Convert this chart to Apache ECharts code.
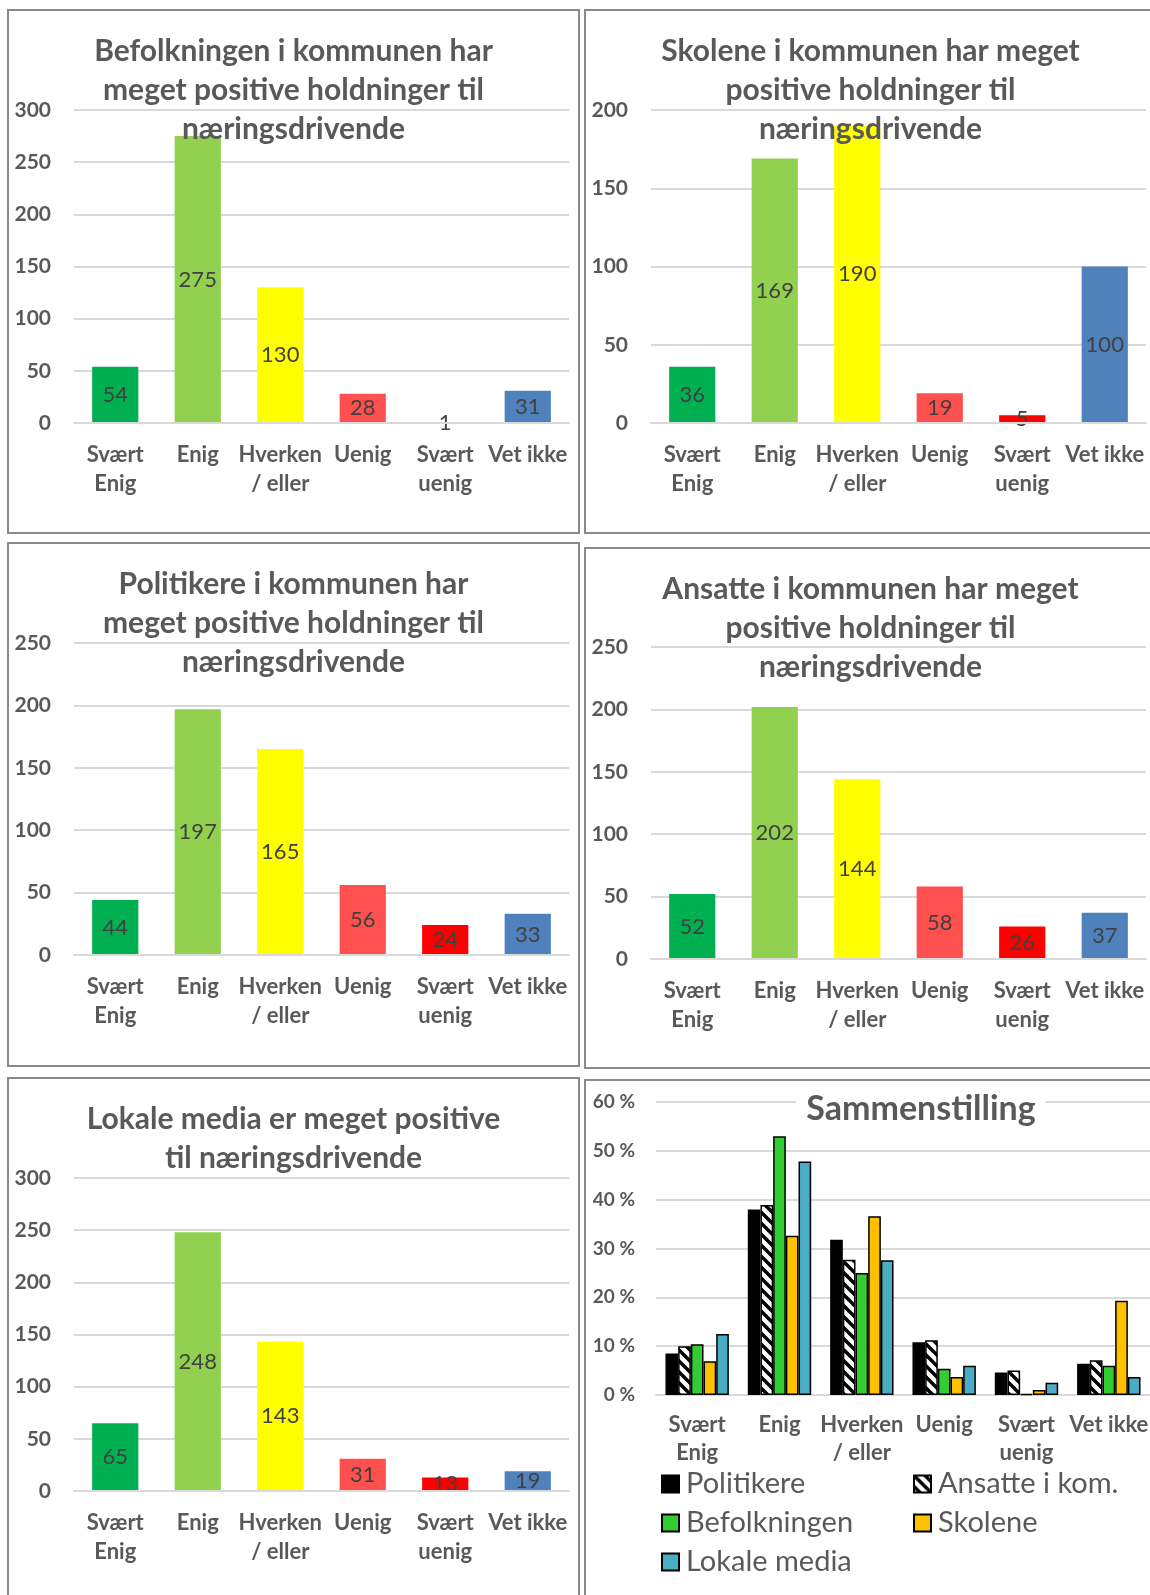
<!DOCTYPE html>
<html>
<head>
<meta charset="utf-8">
<script src="https://cdn.jsdelivr.net/npm/echarts@6/dist/echarts.min.js"></script>
<style>
  html, body { margin: 0; padding: 0; background: #fff; overflow: hidden; }
  body { width: 1150px; height: 1595px; position: relative; }
  .panel { position: absolute; box-sizing: border-box; border: 2px solid #8a8a8a; background: #fff; }
  .panel > div { width: 100%; height: 100%; }
</style>
</head>
<body>
<div class="panel" style="left:7px;top:9px;width:573px;height:525px"><div id="c1"></div></div>
<div class="panel" style="left:584px;top:9px;width:573px;height:525px"><div id="c2"></div></div>
<div class="panel" style="left:7px;top:542px;width:573px;height:525px"><div id="c3"></div></div>
<div class="panel" style="left:584px;top:547px;width:573px;height:522px"><div id="c4"></div></div>
<div class="panel" style="left:7px;top:1077px;width:573px;height:525px"><div id="c5"></div></div>
<div class="panel" style="left:584px;top:1079px;width:573px;height:525px"><div id="c6"></div></div>

<script>
// svarkategorier
const categories = ["Svært\nEnig", "Enig", "Hverken\n/ eller", "Uenig", "Svært\nuenig", "Vet ikke"];

// antall svar per gruppe
const befolkningen = [54, 275, 130, 28, 1, 31];
const skolene = [36, 169, 190, 19, 5, 100];
const politikere = [44, 197, 165, 56, 24, 33];
const ansatte = [52, 202, 144, 58, 26, 37];
const lokaleMedia = [65, 248, 143, 31, 13, 19];

// andeler (%) i sammenstillingen
const politikereShare = [8.5, 38.0, 31.8, 10.8, 4.6, 6.4];
const ansatteShare = [10.0, 38.9, 27.7, 11.2, 5.0, 7.1];
const befolkningenShare = [10.4, 53.0, 25.0, 5.4, 0.2, 6.0];
const skoleneShare = [6.9, 32.6, 36.6, 3.7, 1.0, 19.3];
const lokaleMediaShare = [12.5, 47.8, 27.6, 6.0, 2.5, 3.7];

const catColors = ["#00B050", "#92D050", "#FFFF00", "#FF5050", "#FF0000", "#4F81BD"];
const FONT = "Lato, 'Open Sans', sans-serif";
const GREY = "#595959";

function barChart(id, title, values, max, grid) {
  const chart = echarts.init(document.getElementById(id));
  chart.setOption({
    animation: false,
    textStyle: { fontFamily: FONT },
    title: {
      text: title,
      left: "center",
      top: 21,
      padding: 0,
      textStyle: { fontSize: 30, fontWeight: "bold", color: GREY, lineHeight: 39, fontFamily: FONT },
    },
    grid: Object.assign({ left: 65, right: 9, outerBoundsMode: "none" }, grid),
    xAxis: {
      type: "category",
      data: categories,
      z: 3,
      axisLine: { lineStyle: { color: "#d9d9d9", width: 2 } },
      axisTick: { show: false },
      axisLabel: {
        interval: 0,
        margin: 17,
        color: GREY,
        fontWeight: "bold",
        fontSize: 22,
        lineHeight: 29,
        fontFamily: FONT,
      },
    },
    yAxis: {
      type: "value",
      min: 0,
      max: max,
      interval: 50,
      axisLine: { show: false },
      axisTick: { show: false },
      splitLine: { lineStyle: { color: "#d9d9d9", width: 2 } },
      axisLabel: { margin: 23, color: GREY, fontWeight: "bold", fontSize: 21, fontFamily: FONT },
    },
    series: [
      {
        type: "bar",
        barWidth: "56%",
        data: values.map((v, i) => ({ value: v, itemStyle: { color: catColors[i] } })),
        label: {
          show: true,
          position: "inside",
          color: "#404040",
          fontSize: 22,
          fontFamily: FONT,
        },
        labelLayout: { moveOverlap: false },
      },
    ],
  });
}

barChart("c1", "Befolkningen i kommunen har\nmeget positive holdninger til\nnæringsdrivende",
  befolkningen, 300, { top: 99, bottom: 109 });
barChart("c2", "Skolene i kommunen har meget\npositive holdninger til\nnæringsdrivende",
  skolene, 200, { top: 99, bottom: 109 });
barChart("c3", "Politikere i kommunen har\nmeget positive holdninger til\nnæringsdrivende",
  politikere, 250, { top: 99, bottom: 110 });
barChart("c4", "Ansatte i kommunen har meget\npositive holdninger til\nnæringsdrivende",
  ansatte, 250, { top: 98, bottom: 108 });
barChart("c5", "Lokale media er meget positive\ntil næringsdrivende",
  lokaleMedia, 300, { top: 99, bottom: 109 });

// skravur for "Ansatte i kom."
function hatch() {
  const s = 11;
  const cv = document.createElement("canvas");
  cv.width = s;
  cv.height = s;
  const ctx = cv.getContext("2d");
  ctx.fillStyle = "#fff";
  ctx.fillRect(0, 0, s, s);
  ctx.strokeStyle = "#000";
  ctx.lineWidth = 3.5;
  ctx.beginPath();
  ctx.moveTo(-2, -2); ctx.lineTo(s + 2, s + 2);
  ctx.moveTo(-2, s - 2); ctx.lineTo(2, s + 2);
  ctx.moveTo(s - 2, -2); ctx.lineTo(s + 2, 2);
  ctx.stroke();
  return { image: cv, repeat: "repeat" };
}

const summary = echarts.init(document.getElementById("c6"));
const groupSeries = [
  { name: "Politikere", data: politikereShare, color: "#000000" },
  { name: "Ansatte i kom.", data: ansatteShare, color: hatch() },
  { name: "Befolkningen", data: befolkningenShare, color: "#33CC33" },
  { name: "Skolene", data: skoleneShare, color: "#FFC000" },
  { name: "Lokale media", data: lokaleMediaShare, color: "#4BACC6" },
];

const legendStyle = {
  orient: "vertical",
  itemWidth: 17,
  itemHeight: 17,
  itemGap: 9,
  padding: 0,
  icon: "rect",
  textStyle: { fontSize: 29, color: GREY, fontFamily: FONT, lineHeight: 30, padding: [0, 0, 0, 2] },
};

summary.setOption({
  animation: false,
  textStyle: { fontFamily: FONT },
  title: {
    text: "Sammenstilling",
    left: 325,
    textAlign: "center",
    top: 10,
    padding: [0, 10],
    backgroundColor: "#fff",
    textStyle: { fontSize: 34, fontWeight: "bold", color: GREY, lineHeight: 36, fontFamily: FONT },
  },
  legend: [
    Object.assign({ left: 75, top: 388, data: ["Politikere", "Befolkningen", "Lokale media"] }, legendStyle),
    Object.assign({ left: 327, top: 388, data: ["Ansatte i kom.", "Skolene"] }, legendStyle),
  ],
  grid: { left: 70, right: 5, top: 21, bottom: 207, outerBoundsMode: "none" },
  xAxis: {
    type: "category",
    data: categories,
    axisLine: { lineStyle: { color: "#d9d9d9", width: 2 } },
    axisTick: { show: false },
    axisLabel: {
      interval: 0,
      margin: 16,
      color: GREY,
      fontWeight: "bold",
      fontSize: 22,
      lineHeight: 28,
      fontFamily: FONT,
    },
  },
  yAxis: {
    type: "value",
    min: 0,
    max: 60,
    interval: 10,
    axisLine: { show: false },
    axisTick: { show: false },
    splitLine: { lineStyle: { color: "#d9d9d9", width: 2 } },
    axisLabel: { margin: 21, color: GREY, fontWeight: "bold", fontSize: 19, fontFamily: FONT, formatter: "{value} %" },
  },
  series: groupSeries.map((g) => ({
    name: g.name,
    type: "bar",
    data: g.data,
    barWidth: "15.4%",
    barGap: "0%",
    itemStyle: { color: g.color, borderColor: "#000", borderWidth: 1.5 },
  })),
});
</script>
</body>
</html>
